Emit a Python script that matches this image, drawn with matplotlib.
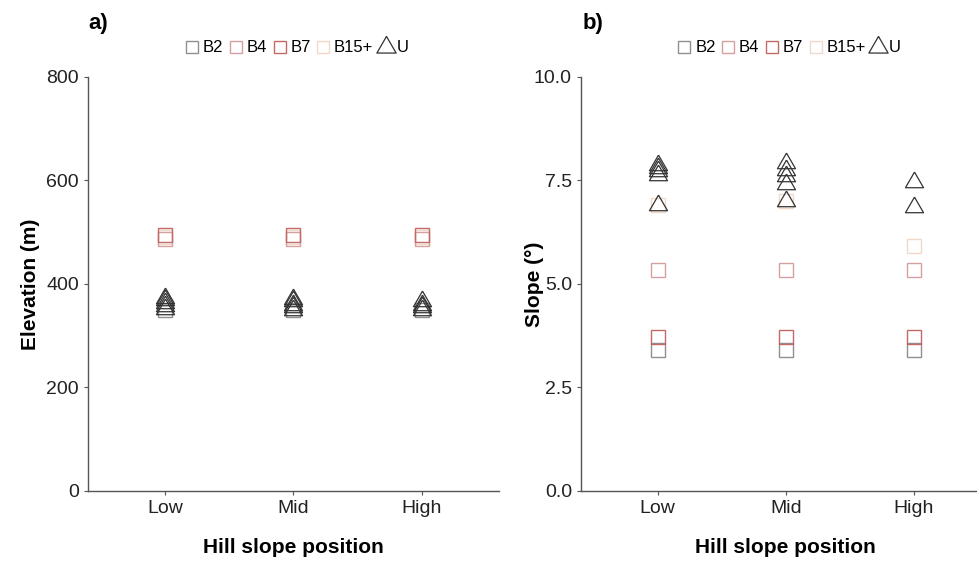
import matplotlib.pyplot as plt
from matplotlib.lines import Line2D

plt.rcParams['font.family'] = ['Liberation Sans', 'DejaVu Sans']

positions = ["Low", "Mid", "High"]

# elevation (m) per site type, one value per hill slope position
elev_b2 = [350, 350, 350]
elev_b4 = [486, 486, 487]
elev_b7 = [495, 495, 495]
elev_b15 = [490, 490, 490]
elev_u = [[352, 358, 363, 368, 373],
          [350, 355, 360, 366, 370],
          [350, 355, 360, 366]]

# slope (degrees)
slope_b2 = [3.41, 3.41, 3.41]
slope_b4 = [5.34, 5.34, 5.34]
slope_b7 = [3.72, 3.72, 3.72]
slope_b15 = [6.90, 7.00, 5.92]
slope_u = [[7.87, 7.80, 7.72, 7.63, 6.90],
           [7.92, 7.75, 7.60, 7.42, 7.00],
           [7.46, 6.86]]

colors = {"B2": "#8f8f8f", "B4": "#d4a0a0", "B7": "#c46a66", "B15+": "#f0d9c8", "U": "#333333"}
tri = [(0, 0.577), (-0.5, -0.289), (0.5, -0.289), (0, 0.577)]


def draw_panel(ax, b2, b4, b7, b15, u, ylim, yticks, ylabel, ylab_x):
    x = [1, 2, 3]
    for vals, key in [(b2, "B2"), (b15, "B15+"), (b4, "B4"), (b7, "B7")]:
        ax.plot(x, vals, linestyle="none", marker="s", ms=10, mfc="none",
                mec=colors[key], mew=1.0)
    for i, vals in enumerate(u):
        ax.plot([x[i]] * len(vals), vals, linestyle="none", marker=tri, ms=15,
                mfc="none", mec=colors["U"], mew=0.9)
    ax.set_xlim(0.4, 3.6)
    ax.set_ylim(*ylim)
    ax.set_yticks(yticks)
    ax.set_xticks(x)
    ax.set_xticklabels(positions)
    for s in ["top", "right"]:
        ax.spines[s].set_visible(False)
    for s in ["left", "bottom"]:
        ax.spines[s].set_color("#555555")
        ax.spines[s].set_linewidth(1.0)
    ax.tick_params(axis="both", colors="#555555", labelcolor="#222222",
                   labelsize=14, length=3, width=0.8)
    ax.set_xlabel("Hill slope position", fontsize=15, fontweight="bold", labelpad=15)
    ax.set_ylabel(ylabel, fontsize=15, fontweight="bold")
    ax.yaxis.set_label_coords(ylab_x, 0.5)

    handles = [Line2D([], [], linestyle="none", marker="s", ms=8, mfc="none",
                      mec=colors[k], mew=1.0) for k in ["B2", "B4", "B7", "B15+"]]
    handles.append(Line2D([], [], linestyle="none", marker=tri, ms=16, mfc="none",
                          mec=colors["U"], mew=0.9))
    ax.legend(handles, ["B2", "B4", "B7", "B15+", "U"], ncol=5, loc="center",
              bbox_to_anchor=(0.51, 1.07), frameon=False, fontsize=12,
              handlelength=0.7, handletextpad=0.3, columnspacing=0.4,
              borderaxespad=0)


fig = plt.figure(figsize=(9.78, 5.61), dpi=100)
ax1 = fig.add_axes([0.090, 0.125, 0.420, 0.738])
ax2 = fig.add_axes([0.594, 0.125, 0.419, 0.738])

draw_panel(ax1, elev_b2, elev_b4, elev_b7, elev_b15, elev_u,
           (0, 800), [0, 200, 400, 600, 800], "Elevation (m)", -0.117)
draw_panel(ax2, slope_b2, slope_b4, slope_b7, slope_b15, slope_u,
           (0, 10), [0, 2.5, 5, 7.5, 10], "Slope (°)", -0.090)
ax2.set_yticklabels(["0.0", "2.5", "5.0", "7.5", "10.0"])

fig.text(0.090, 1 - 23 / 561, "a)", fontsize=16, fontweight="bold", va="center")
fig.text(0.596, 1 - 23 / 561, "b)", fontsize=16, fontweight="bold", va="center")

fig.savefig("out.png", dpi=100)
